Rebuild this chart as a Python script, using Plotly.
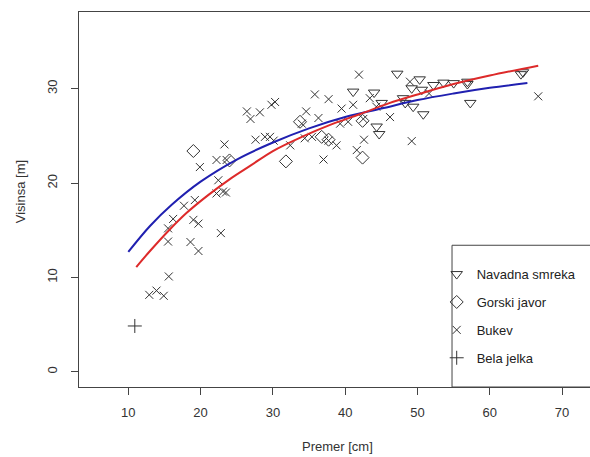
import plotly.graph_objects as go

# ---- data ----
smreka_d = [41.1, 44.0, 45.05, 44.35, 44.7, 47.2, 50.3, 49.2, 50.6, 52.2, 53.6, 55.0,
            56.9, 56.9, 48.0, 48.3, 49.4, 50.8, 57.3, 64.3, 64.6]
smreka_h = [29.7, 29.6, 28.5, 26.0, 25.2, 31.6, 31.0, 30.05, 29.9, 30.4, 30.65, 30.6,
            30.75, 30.5, 29.0, 28.5, 28.1, 27.3, 28.5, 31.55, 31.75]

javor_d = [19.0, 24.0, 31.8, 33.75, 36.75, 37.7, 42.4, 42.4]
javor_h = [23.4, 22.4, 22.3, 26.5, 24.9, 24.6, 26.6, 22.7]

bukev_d = [12.9, 13.9, 14.9, 15.6, 15.5, 15.5, 16.2, 17.7, 19.2, 19.0, 19.7, 18.6, 19.7,
           22.8, 22.2, 23.1, 23.5, 22.45, 19.9, 22.2, 23.6, 23.3, 26.4, 26.9, 28.2, 29.8,
           30.3, 27.6, 28.9, 29.6, 30.1, 32.4, 34.0, 34.6, 35.8, 37.7, 36.3, 34.4, 35.4,
           37.7, 38.8, 37.0, 39.5, 41.1, 39.3, 40.4, 42.5, 41.9, 43.4, 44.3, 46.2, 42.6,
           41.6, 48.96, 51.6, 49.2, 66.7]
bukev_h = [8.15, 8.6, 8.05, 10.1, 13.8, 15.2, 16.2, 17.6, 18.2, 16.1, 15.7, 13.75, 12.8,
           14.7, 18.9, 19.1, 19.0, 20.3, 21.7, 22.45, 22.45, 24.1, 27.6, 26.8, 27.5, 28.3,
           28.6, 24.6, 24.9, 24.9, 24.5, 24.0, 26.3, 27.6, 29.4, 28.9, 26.9, 24.75, 24.9,
           24.5, 24.0, 22.5, 27.9, 28.3, 26.3, 26.5, 26.8, 31.5, 29.0, 28.1, 27.0, 24.6,
           23.5, 30.75, 29.5, 24.45, 29.2]

jelka_d = [10.9]
jelka_h = [4.85]

red_d = [11.1, 13, 15.5, 18, 21, 24, 27, 30, 34, 38, 42, 46, 50, 55, 60, 66.7]
red_h = [11.1, 12.8, 14.9, 16.8, 18.7, 20.4, 21.9, 23.4, 24.9, 26.2, 27.3, 28.45, 29.4,
         30.5, 31.4, 32.45]

blue_d = [10, 13, 16, 20, 25, 30, 35, 40, 45, 50, 55, 60, 65.2]
blue_h = [12.7, 15.45, 17.7, 20.15, 22.5, 24.3, 25.8, 27.0, 27.9, 28.8, 29.5, 30.1, 30.6]

x_ticks = [10, 20, 30, 40, 50, 60, 70]
y_ticks = [0, 10, 20, 30]

FONT = "Liberation Sans, Arial, sans-serif"
MK = "#333333"

fig = go.Figure()

fig.add_trace(go.Scatter(x=smreka_d, y=smreka_h, mode="markers", name="Navadna smreka",
                         legendgroup="a",
                         marker=dict(symbol="triangle-down-open", size=10, color=MK,
                                     line=dict(width=1, color=MK))))
fig.add_trace(go.Scatter(x=javor_d, y=javor_h, mode="markers", name="Gorski javor",
                         legendgroup="b",
                         marker=dict(symbol="diamond-open", size=10, color=MK,
                                     line=dict(width=1, color=MK))))
fig.add_trace(go.Scatter(x=bukev_d, y=bukev_h, mode="markers", name="Bukev",
                         legendgroup="c",
                         marker=dict(symbol="x-thin-open", size=8, color=MK,
                                     line=dict(width=1, color=MK))))
fig.add_trace(go.Scatter(x=jelka_d, y=jelka_h, mode="markers", name="Bela jelka",
                         legendgroup="d",
                         marker=dict(symbol="cross-thin-open", size=10, color=MK,
                                     line=dict(width=1, color=MK))))

fig.add_trace(go.Scatter(x=blue_d, y=blue_h, mode="lines", showlegend=False,
                         line=dict(color="#2020b0", width=2, shape="spline")))
fig.add_trace(go.Scatter(x=red_d, y=red_h, mode="lines", showlegend=False,
                         line=dict(color="#dd2a2a", width=2, shape="spline")))

# legend frame (extends to the right/bottom edge like the cropped original)
fig.add_shape(type="rect", xref="paper", yref="paper", x0=0.73, x1=1.05, y0=0, y1=0.378,
              line=dict(color="#444444", width=1), fillcolor="rgba(0,0,0,0)")

fig.add_annotation(text="Premer [cm]", xref="paper", yref="paper", x=0.506, y=-0.16,
                   xanchor="center", yanchor="middle", showarrow=False,
                   font=dict(size=13, color="#333333"))
fig.add_annotation(text="Visinsa [m]", xref="paper", yref="paper", x=-0.115, y=0.52,
                   xanchor="center", yanchor="middle", showarrow=False, textangle=-90,
                   font=dict(size=13, color="#333333"))

fig.update_layout(
    width=590, height=457,
    paper_bgcolor="white", plot_bgcolor="white",
    margin=dict(l=79, r=0, t=12, b=70, autoexpand=False),
    font=dict(family=FONT, size=13, color="#333333"),
    showlegend=True,
    legend=dict(x=0.70, y=0.341, xanchor="left", yanchor="top",
                bgcolor="rgba(0,0,0,0)", borderwidth=0,
                tracegroupgap=8, font=dict(size=13, color="#222222")),
    xaxis=dict(range=[3.18, 73.86], tickvals=x_ticks, ticks="outside", ticklen=7,
               tickcolor="#444444", showline=True, mirror=True, linecolor="#444444",
               linewidth=1, showgrid=False, zeroline=False, automargin=False,
               ticklabelstandoff=6),
    yaxis=dict(range=[-1.62, 38.14], tickvals=y_ticks, ticks="outside", ticklen=7,
               tickcolor="#444444", showline=True, mirror=False, linecolor="#444444",
               linewidth=1, showgrid=False, zeroline=False, tickangle=-90,
               automargin=False, ticklabelstandoff=9),
)

fig.write_html("out.html", config={"displayModeBar": False},
               post_script="document.body.style.margin='0';document.body.style.overflow='hidden';")
